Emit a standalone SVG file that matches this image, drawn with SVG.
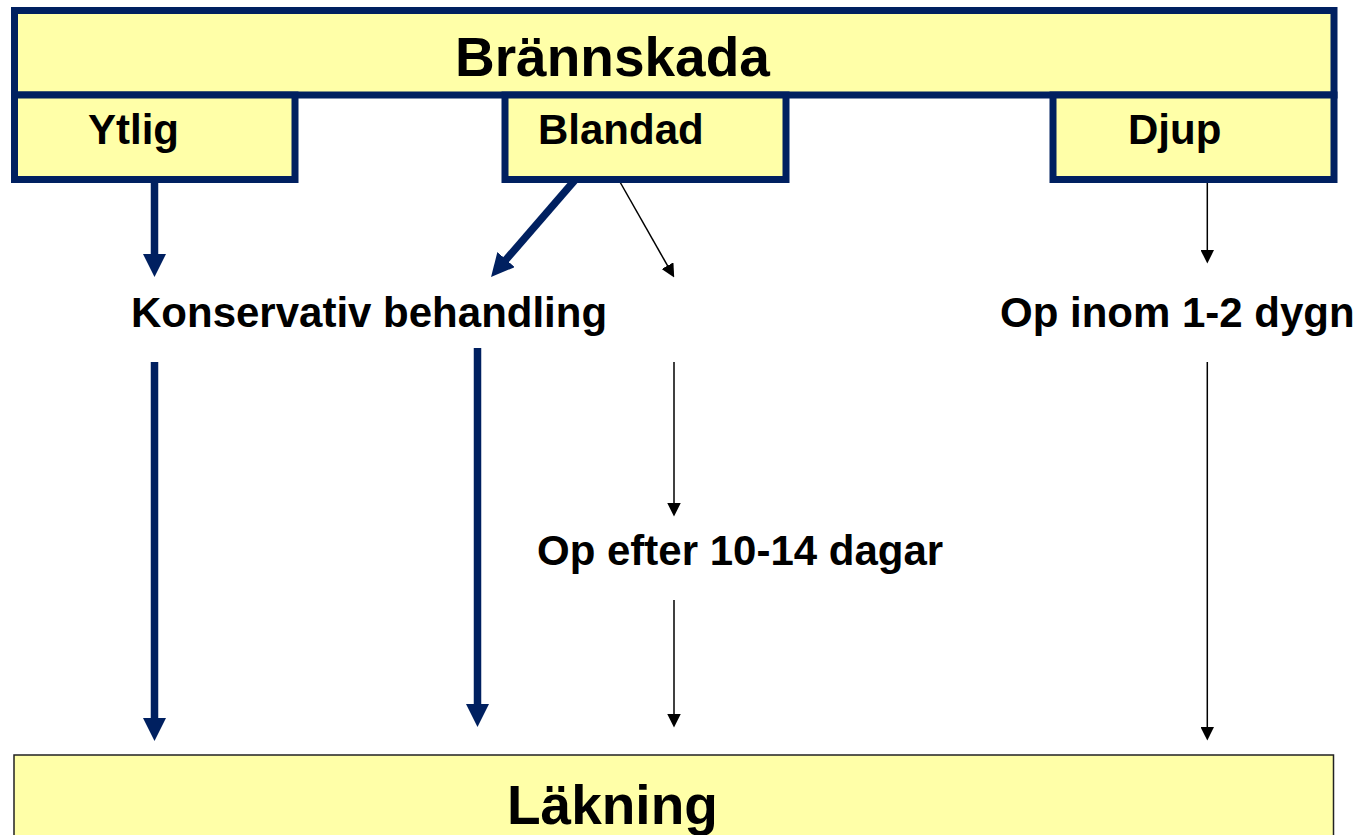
<svg xmlns="http://www.w3.org/2000/svg" width="1362" height="835" viewBox="0 0 1362 835">
<style>
.box{fill:#FFFFA8;stroke:#002060;stroke-width:7}
.t{font-family:"Liberation Sans",Arial,sans-serif;font-weight:bold;fill:#000}
.thick{stroke:#002060;stroke-width:7.5;fill:none;marker-end:url(#hb)}
.thin{stroke:#000;stroke-width:1.5;fill:none;marker-end:url(#hs)}
</style>
<defs>
<marker id="hb" markerUnits="userSpaceOnUse" markerWidth="23" markerHeight="23" refX="9" refY="11.5" orient="auto" viewBox="0 0 23 23"><path d="M0,0 L23,11.5 L0,23 z" fill="#002060"/></marker>
<marker id="hs" markerUnits="userSpaceOnUse" markerWidth="13.5" markerHeight="13.5" refX="6" refY="6.75" orient="auto" viewBox="0 0 13.5 13.5"><path d="M0,0 L13.5,6.75 L0,13.5 z" fill="#000"/></marker>
</defs>
<rect width="1362" height="835" fill="#fff"/>
<g id="connectors">
<line class="thick" x1="154.5" y1="180" x2="154.5" y2="263"/>
<line class="thick" x1="154.5" y1="362" x2="154.5" y2="727"/>
<line class="thick" x1="575" y1="180" x2="500.2" y2="266.4"/>
<line class="thick" x1="477.5" y1="348" x2="477.5" y2="713"/>
<line class="thin" x1="620" y1="182" x2="670.5" y2="270.9"/>
<line class="thin" x1="674" y1="362" x2="674" y2="509"/>
<line class="thin" x1="674" y1="600" x2="674" y2="720"/>
<line class="thin" x1="1207.3" y1="182" x2="1207.3" y2="256"/>
<line class="thin" x1="1207.3" y1="362" x2="1207.3" y2="733"/>
</g>
<g id="brannskada">
<rect class="box" x="14.5" y="10.5" width="1319.5" height="84.5"/>
<text class="t" x="455" y="76" font-size="55">Brännskada</text>
</g>
<g id="ytlig">
<rect class="box" x="14.5" y="95" width="280.5" height="84.5"/>
<text class="t" x="88" y="144" font-size="42">Ytlig</text>
</g>
<g id="blandad">
<rect class="box" x="505" y="95" width="281" height="84.5"/>
<text class="t" x="538" y="143.5" font-size="42">Blandad</text>
</g>
<g id="djup">
<rect class="box" x="1053" y="95" width="281" height="84.5"/>
<text class="t" x="1128" y="143.5" font-size="42">Djup</text>
</g>
<g id="konservativ">
<text class="t" x="131" y="327" font-size="42">Konservativ behandling</text>
</g>
<g id="op-inom">
<text class="t" x="1000" y="327" font-size="42">Op inom 1-2 dygn</text>
</g>
<g id="op-efter">
<text class="t" x="537" y="565" font-size="42">Op efter 10-14 dagar</text>
</g>
<g id="lakning">
<rect x="14" y="755" width="1319.5" height="100" fill="#FFFFA8" stroke="#222" stroke-width="1.5"/>
<text class="t" x="507" y="824" font-size="55">Läkning</text>
</g>
</svg>
